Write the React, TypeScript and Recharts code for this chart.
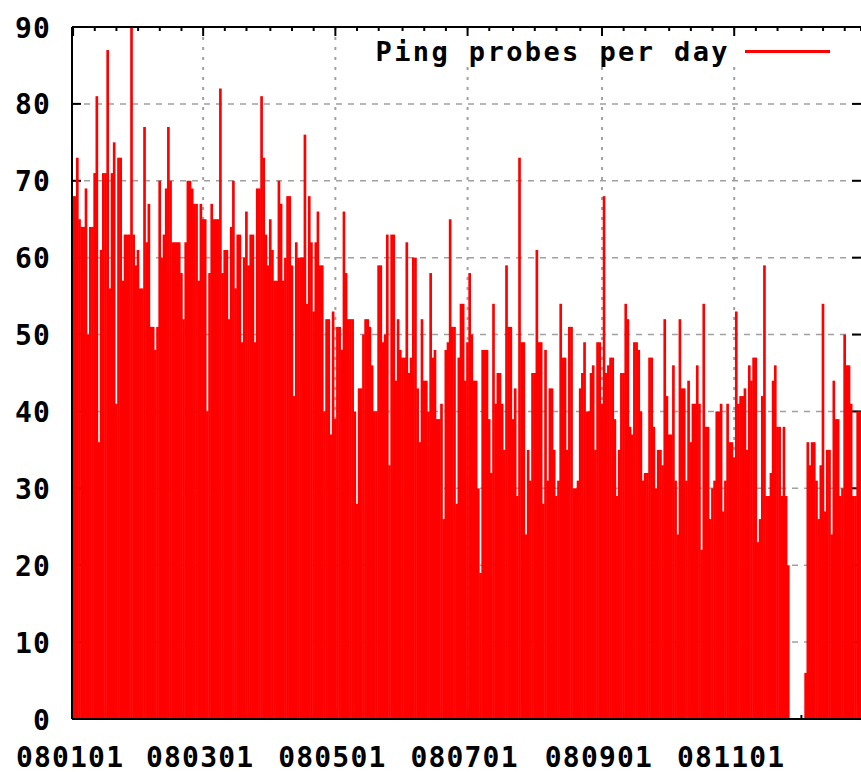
import React from 'react';
import { Bar, BarChart, CartesianGrid, ReferenceLine, XAxis, YAxis } from 'recharts';

// ping probes per day, 2008, one array per month
const jan = [68, 68, 73, 65, 64, 64, 69, 50, 64, 64, 71, 81, 36, 61, 71, 71, 87, 56, 71, 75, 41, 73, 73, 57, 63, 63, 63, 90, 63, 59, 61];
const feb = [56, 56, 77, 62, 67, 51, 51, 48, 51, 70, 60, 63, 69, 77, 70, 62, 62, 62, 62, 58, 52, 62, 70, 70, 69, 67, 67, 57, 67];
const mar = [65, 65, 40, 58, 67, 65, 65, 65, 82, 58, 61, 61, 52, 64, 70, 56, 63, 63, 49, 60, 66, 59, 63, 63, 49, 69, 69, 81, 73, 63, 59];
const apr = [65, 61, 57, 57, 70, 67, 57, 60, 68, 68, 59, 42, 62, 60, 60, 60, 76, 54, 68, 62, 53, 62, 66, 59, 59, 40, 52, 52, 37, 53];
const may = [39, 51, 51, 48, 66, 58, 52, 52, 52, 40, 28, 43, 43, 50, 52, 52, 51, 46, 40, 40, 59, 59, 49, 50, 63, 33, 63, 63, 44, 52, 48];
const jun = [47, 47, 62, 45, 47, 60, 60, 43, 36, 52, 44, 44, 40, 58, 47, 48, 39, 39, 41, 26, 48, 49, 65, 51, 51, 28, 47, 54, 54, 44];
const jul = [49, 58, 50, 44, 44, 30, 19, 48, 48, 48, 39, 32, 54, 41, 45, 45, 41, 35, 59, 51, 51, 39, 43, 29, 73, 49, 49, 24, 35, 31, 45];
const aug = [45, 61, 49, 49, 28, 48, 31, 43, 43, 35, 29, 31, 54, 47, 47, 35, 51, 51, 30, 30, 31, 43, 45, 49, 40, 40, 45, 46, 35, 49, 49];
const sep = [41, 68, 45, 46, 47, 47, 39, 29, 35, 45, 45, 54, 52, 38, 37, 49, 49, 48, 40, 31, 32, 32, 47, 47, 38, 30, 35, 35, 33, 52];
const oct = [42, 37, 37, 46, 31, 24, 52, 43, 43, 31, 44, 36, 41, 41, 46, 41, 22, 54, 38, 38, 26, 30, 31, 40, 40, 41, 27, 31, 41, 36, 36];
const nov = [34, 53, 41, 42, 42, 43, 35, 46, 44, 47, 47, 23, 26, 42, 59, 29, 29, 32, 44, 46, 38, 38, 29, 38, 29, 20, 0, 0, 0, 0];
const dec = [0, 0, 0, 6, 36, 33, 36, 36, 31, 26, 33, 54, 27, 35, 35, 24, 44, 39, 39, 29, 30, 50, 46, 46, 41, 29, 29, 40, 40];

const months: [string, number[]][] = [
  ['01', jan], ['02', feb], ['03', mar], ['04', apr], ['05', may], ['06', jun],
  ['07', jul], ['08', aug], ['09', sep], ['10', oct], ['11', nov], ['12', dec],
];

const xTickLabels = ['080101', '080301', '080501', '080701', '080901', '081101'];
const yTicks = [0, 10, 20, 30, 40, 50, 60, 70, 80, 90];
const seriesName = 'Ping probes per day';

const data = months.flatMap(([mm, vals]) =>
  vals.map((probes, i) => ({ date: `08${mm}${String(i + 1).padStart(2, '0')}`, probes }))
);

const W = 861;
const H = 774;
const LEFT = 72;
const TOP = 27;
const BOTTOM = 719;
const band = (W - LEFT) / data.length;
const FONT = "'DejaVu Sans Mono', monospace";

// gnuplot put 5 minor tics inside every 2-month interval
const majorIdx = xTickLabels.map((d) => data.findIndex((r) => r.date === d));
const bounds = [...majorIdx, 366];
const minorIdx: number[] = [];
for (let k = 0; k < majorIdx.length; k++) {
  for (let j = 1; j < 6; j++) {
    const i = Math.round(bounds[k] + ((bounds[k + 1] - bounds[k]) * j) / 6);
    if (i < data.length) minorIdx.push(i);
  }
}
const allIdx = [...majorIdx, ...minorIdx].sort((a, b) => a - b);
const xTicks = allIdx.map((i) => data[i].date);
const majorX = majorIdx.map((i) => LEFT + band * (i + 0.5));

const hLine = (p: any) => {
  const { x1, x2, y1 } = p;
  const edge = y1 < TOP + 2 || y1 > BOTTOM - 2;
  return (
    <g key={`h-${y1}`}>
      {!edge && (
        <line x1={x1} x2={x2} y1={y1} y2={y1} stroke="#a0a0a0" strokeWidth={1.5} strokeDasharray="6 6" />
      )}
      <line x1={x1} x2={x1 + 9} y1={y1} y2={y1} stroke="#000" strokeWidth={2} />
      <line x1={x2 - 9} x2={x2} y1={y1} y2={y1} stroke="#000" strokeWidth={2} />
    </g>
  );
};

const vLine = (p: any) => {
  const { x1, y1, y2 } = p;
  const major = majorX.some((mx) => Math.abs(mx - x1) < 1);
  const len = major ? 9 : 4;
  return (
    <g key={`v-${x1}`}>
      {major && x1 > LEFT + 3 && (
        <line x1={x1} x2={x1} y1={y1} y2={y2} stroke="#a0a0a0" strokeWidth={2} strokeDasharray="3 7" />
      )}
      <line x1={x1} x2={x1} y1={y1} y2={y1 + len} stroke="#000" strokeWidth={2} />
      <line x1={x1} x2={x1} y1={y2 - len} y2={y2} stroke="#000" strokeWidth={2} />
    </g>
  );
};

const XTick = ({ x, payload }: any) =>
  xTickLabels.includes(payload.value) ? (
    <text x={x - 3} y={757} textAnchor="middle" dominantBaseline="central"
      fontFamily={FONT} fontWeight="bold" fontSize={28} letterSpacing={1.2} fill="#000">
      {payload.value}
    </text>
  ) : (
    <g />
  );

const YTick = ({ y, payload }: any) => (
  <text x={51} y={y + 1} textAnchor="end" dominantBaseline="central"
    fontFamily={FONT} fontWeight="bold" fontSize={28} letterSpacing={1.2} fill="#000">
    {payload.value}
  </text>
);

// each impulse fills its whole day slot, a hair wider so neighbours leave no seam
const RedBar = (p: any) => {
  if (!(p.height > 0)) return <g />;
  const cx = p.x + p.width / 2;
  return <rect x={cx - band / 2 - 0.25} y={p.y} width={band + 0.5} height={p.height} fill="#ff0000" />;
};

export default function App() {
  return (
    <div style={{ position: 'absolute', left: 0, top: 0, width: W, height: H, background: '#fff' }}>
      <BarChart
        width={W}
        height={H}
        data={data}
        margin={{ top: TOP, right: 0, left: 0, bottom: 0 }}
        barCategoryGap={0}
        barGap={0}
      >
        <CartesianGrid horizontal={hLine} vertical={vLine} />
        <XAxis
          dataKey="date"
          ticks={xTicks}
          interval={0}
          height={H - BOTTOM}
          tick={XTick}
          tickLine={false}
          axisLine={{ stroke: '#000', strokeWidth: 2 }}
        />
        <YAxis
          domain={[0, 90]}
          ticks={yTicks}
          interval={0}
          width={LEFT}
          tick={YTick}
          tickLine={false}
          axisLine={{ stroke: '#000', strokeWidth: 2 }}
        />
        <Bar
          dataKey="probes"
          name={seriesName}
          fill="#ff0000"
          shape={RedBar}
          isAnimationActive={false}
        />
        <ReferenceLine y={90} stroke="#000" strokeWidth={2} />
      </BarChart>
      <div
        style={{
          position: 'absolute',
          left: 360,
          top: 36,
          width: 485,
          height: 30,
          background: '#fff',
          display: 'flex',
          alignItems: 'center',
          justifyContent: 'flex-end',
        }}
      >
        <span style={{ fontFamily: FONT, fontWeight: 'bold', fontSize: 27, letterSpacing: 2.4, color: '#000', whiteSpace: 'nowrap' }}>
          {seriesName}
        </span>
        <span style={{ display: 'inline-block', width: 85, height: 0, borderTop: '3px solid #ff0000', marginLeft: 15, marginRight: 15 }} />
      </div>
    </div>
  );
}
